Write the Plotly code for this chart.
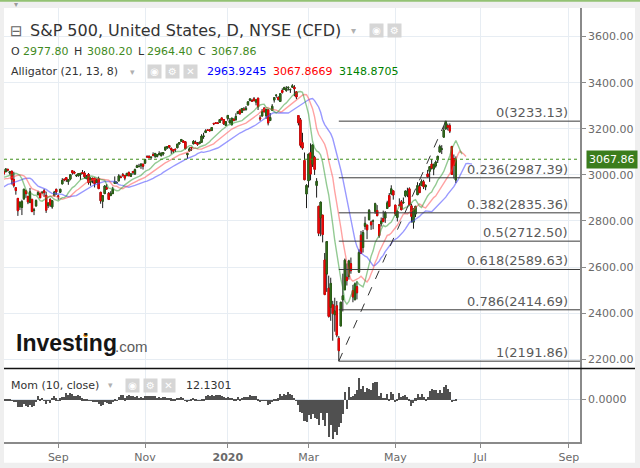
import pandas as pd
import plotly.graph_objects as go

holidays = ["2019-07-04", "2019-09-02", "2019-11-28", "2019-12-25", "2020-01-01",
            "2020-01-20", "2020-02-17", "2020-04-10", "2020-05-25"]

# daily S&P 500 CFD candles, 3 Jun 2019 .. 15 Jun 2020
# (the weeks before late July are off screen, they only feed the indicators)
open_ = [
    # Jun 2019
    2752.6, 2762.6, 2818.1, 2828.5, 2852.9, 2885.8, 2903.3, 2882.7, 2886.2, 2886.8,
    2889.8, 2906.7, 2920.6, 2949.6, 2952.7, 2951.4, 2945.8, 2926.1, 2919.7, 2932.9,
    # Jul
    2971.4, 2964.7, 2978.1, 2984.3, 2979.8, 2965.5, 2989.3, 2999.6, 3003.4, 3017.8,
    3012.1, 3005.1, 2978.9, 3004.3, 2981.9, 2994.7, 2998.8, 3016.3, 3013.3, 3024.5,
    3007.7, 3016.2,
    # Aug
    2980.3, 2943.9, 2898.1, 2861.2, 2858.6, 2896.2, 2930.5, 2907.1, 2880.7, 2894.2,
    2846.2, 2864.7, 2913.5, 2919.0, 2922.0, 2930.9, 2911.1, 2866.7, 2893.1, 2861.3,
    2910.4, 2937.1,
    # Sep
    2909.0, 2924.7, 2960.6, 2980.3, 2988.4, 2971.0, 2981.4, 3018.2, 3012.2, 2996.4,
    2995.7, 3001.5, 3010.4, 3008.4, 2983.5, 3002.4, 2968.4, 2985.7, 2985.5, 2967.1,
    # Oct
    2983.7, 2924.8, 2885.4, 2918.6, 2944.2, 2920.4, 2911.1, 2918.6, 2963.1, 2965.8,
    2973.6, 2989.7, 3000.8, 2996.8, 2996.5, 3010.7, 2994.0, 3014.8, 3003.3, 3032.1,
    3035.4, 3039.7, 3046.9,
    # Nov
    3050.7, 3079.0, 3080.8, 3075.1, 3087.0, 3081.3, 3080.3, 3089.3, 3084.2, 3090.8,
    3107.9, 3117.9, 3127.5, 3114.7, 3108.5, 3111.4, 3117.4, 3134.9, 3145.5, 3147.2,
    # Dec
    3143.9, 3087.4, 3103.5, 3119.2, 3134.6, 3141.9, 3135.4, 3135.8, 3141.2, 3166.7,
    3183.6, 3195.4, 3195.2, 3192.3, 3223.3, 3226.1, 3225.5, 3227.2, 3247.2, 3240.1,
    3215.2,
    # Jan 2020
    3244.7, 3226.4, 3217.6, 3241.9, 3238.6, 3266.0, 3281.0, 3271.1, 3285.4, 3282.3,
    3303.0, 3323.7, 3321.0, 3330.0, 3315.8, 3333.1, 3247.2, 3255.4, 3289.5, 3256.5,
    3282.3,
    # Feb
    3235.7, 3280.6, 3324.9, 3344.9, 3335.5, 3318.3, 3365.9, 3370.5, 3365.9, 3378.1,
    3369.0, 3380.4, 3380.5, 3360.5, 3257.6, 3238.9, 3139.9, 3062.5, 2916.9,
    # Mar
    2974.3, 3096.5, 3045.8, 3075.7, 2954.2, 2863.9, 2813.5, 2825.6, 2630.9, 2570.0,
    2508.6, 2425.7, 2436.5, 2393.5, 2431.9, 2290.7, 2344.4, 2457.8, 2501.3, 2555.9,
    2559.0, 2614.7,
    # Apr
    2498.1, 2458.5, 2514.9, 2578.3, 2738.7, 2685.0, 2777.0, 2782.5, 2805.1, 2795.6,
    2799.3, 2842.4, 2845.6, 2784.8, 2787.9, 2810.4, 2812.6, 2854.7, 2910.0, 2918.5,
    2930.9,
    # May
    2869.1, 2815.0, 2868.9, 2883.1, 2878.3, 2908.8, 2915.5, 2939.5, 2865.9, 2794.5,
    2829.9, 2913.9, 2948.6, 2953.6, 2970.0, 2948.0, 3004.1, 3015.7, 3046.6, 3025.2,
    # Jun
    3038.8, 3064.8, 3098.9, 3111.6, 3163.8, 3199.9, 3213.3, 3213.4, 3123.5, 3071.0,
    2977.8,
]
high = [
    2763.1, 2804.5, 2827.3, 2852.1, 2885.0, 2904.8, 2910.6, 2888.6, 2895.2, 2894.5,
    2897.3, 2930.8, 2931.7, 2958.1, 2964.2, 2954.9, 2946.5, 2932.6, 2929.3, 2943.9,
    2977.9, 2973.2, 2995.8, 2994.0, 2980.8, 2981.9, 3002.9, 3002.3, 3013.9, 3017.8,
    3015.0, 3005.3, 2998.3, 3006.5, 2990.7, 3005.9, 3019.6, 3016.3, 3027.4, 3025.6,
    3017.2, 3017.4,
    3013.6, 2945.5, 2898.1, 2884.4, 2892.2, 2938.7, 2935.8, 2907.6, 2943.3, 2894.2,
    2856.7, 2893.6, 2931.0, 2923.6, 2928.7, 2939.1, 2927.0, 2879.3, 2898.8, 2890.0,
    2930.5, 2940.4,
    2914.4, 2938.8, 2985.9, 2985.0, 2989.4, 2979.4, 3000.9, 3020.0, 3017.3, 3002.2,
    3006.2, 3007.8, 3021.2, 3016.4, 2999.2, 3008.0, 2989.8, 2987.3, 2987.3, 2983.9,
    2992.5, 2924.8, 2911.1, 2953.7, 2959.8, 2925.5, 2929.3, 2948.5, 2993.3, 2972.8,
    3003.3, 2997.5, 3008.3, 3000.0, 3007.3, 3014.6, 3004.8, 3016.1, 3027.4, 3044.1,
    3047.9, 3050.1, 3046.9,
    3066.9, 3085.2, 3084.0, 3078.3, 3097.8, 3093.1, 3088.3, 3102.6, 3098.1, 3098.2,
    3120.5, 3124.2, 3127.6, 3119.0, 3110.1, 3112.9, 3133.8, 3142.7, 3154.3, 3150.3,
    3144.3, 3095.0, 3119.4, 3119.4, 3150.6, 3148.9, 3142.1, 3144.0, 3176.3, 3182.7,
    3197.7, 3198.2, 3198.5, 3205.5, 3225.6, 3227.8, 3226.4, 3240.1, 3247.9, 3240.9,
    3231.7,
    3258.1, 3246.2, 3246.8, 3244.9, 3267.1, 3275.6, 3283.0, 3288.1, 3294.2, 3298.7,
    3317.1, 3329.9, 3329.8, 3337.8, 3326.9, 3333.2, 3258.9, 3285.8, 3293.5, 3285.9,
    3282.3,
    3268.4, 3306.9, 3337.6, 3348.0, 3341.4, 3352.3, 3375.6, 3381.5, 3385.1, 3380.7,
    3375.0, 3393.5, 3389.2, 3360.8, 3259.8, 3247.0, 3182.5, 3097.1, 2959.7,
    3091.0, 3136.7, 3131.0, 3083.0, 2985.9, 2863.9, 2882.6, 2825.6, 2661.0, 2711.3,
    2563.0, 2553.9, 2453.6, 2467.0, 2453.0, 2300.7, 2449.7, 2571.4, 2637.0, 2615.9,
    2631.8, 2641.4,
    2522.8, 2533.2, 2538.2, 2676.9, 2756.9, 2760.8, 2818.6, 2782.5, 2851.9, 2801.9,
    2806.5, 2879.2, 2869.0, 2785.5, 2815.1, 2844.9, 2842.7, 2887.7, 2921.2, 2954.9,
    2930.9,
    2869.1, 2844.2, 2898.2, 2891.1, 2901.9, 2932.2, 2944.3, 2945.8, 2874.1, 2852.8,
    2865.0, 2968.1, 2964.2, 2980.3, 2978.5, 2956.8, 3021.7, 3036.3, 3068.7, 3049.2,
    3062.2, 3081.1, 3130.9, 3128.9, 3211.7, 3233.13, 3222.7, 3223.3, 3123.5, 3088.4,
    3080.2,
]
low = [
    2728.8, 2762.6, 2800.9, 2822.5, 2848.0, 2885.5, 2874.9, 2874.7, 2881.9, 2879.6,
    2887.3, 2905.4, 2911.4, 2931.5, 2946.9, 2944.1, 2916.0, 2912.9, 2918.6, 2929.1,
    2952.2, 2955.9, 2977.9, 2967.9, 2970.1, 2963.4, 2984.6, 2988.8, 3001.9, 3008.8,
    3001.2, 2984.3, 2973.1, 2975.9, 2976.7, 2988.6, 2996.8, 2997.2, 3012.6, 3014.5,
    3000.9, 2958.1,
    2945.2, 2914.1, 2822.1, 2847.4, 2825.7, 2891.7, 2900.2, 2873.1, 2877.1, 2839.6,
    2825.5, 2864.7, 2913.5, 2899.6, 2917.9, 2904.5, 2835.0, 2856.0, 2860.6, 2853.1,
    2905.7, 2913.3,
    2891.9, 2921.9, 2960.6, 2972.5, 2969.4, 2957.0, 2976.3, 3000.9, 3002.9, 2990.7,
    2993.7, 2978.6, 3003.2, 2984.7, 2982.2, 2957.7, 2952.9, 2963.7, 2945.5, 2967.1,
    2938.7, 2874.9, 2855.9, 2918.6, 2935.7, 2892.7, 2907.4, 2917.1, 2963.1, 2962.9,
    2973.6, 2985.2, 2991.8, 2976.3, 2995.4, 2995.0, 2991.2, 3000.4, 3001.9, 3032.1,
    3034.8, 3026.0, 3023.2,
    3050.7, 3074.9, 3072.2, 3065.9, 3080.2, 3073.6, 3075.8, 3084.7, 3078.8, 3083.3,
    3104.6, 3112.1, 3113.5, 3091.4, 3094.6, 3099.3, 3117.4, 3131.0, 3143.4, 3139.3,
    3110.8, 3070.3, 3102.5, 3103.8, 3134.6, 3135.5, 3126.1, 3133.2, 3138.5, 3156.5,
    3183.6, 3191.0, 3191.1, 3192.3, 3216.0, 3222.3, 3220.5, 3227.2, 3234.4, 3216.6,
    3212.0,
    3235.5, 3222.3, 3214.6, 3232.4, 3236.7, 3263.7, 3260.9, 3268.4, 3277.1, 3280.7,
    3303.0, 3318.9, 3316.6, 3320.0, 3301.9, 3281.5, 3234.5, 3253.2, 3271.9, 3242.8,
    3214.7,
    3235.7, 3280.6, 3313.8, 3334.4, 3322.1, 3317.8, 3352.7, 3369.7, 3360.5, 3366.2,
    3355.6, 3378.8, 3341.0, 3328.5, 3214.7, 3118.8, 3109.0, 2977.4, 2855.8,
    2945.2, 2976.6, 3034.4, 2999.8, 2901.5, 2734.4, 2734.0, 2707.2, 2478.9, 2492.4,
    2380.9, 2367.0, 2280.5, 2319.8, 2295.6, 2191.86, 2344.4, 2407.5, 2500.7, 2520.0,
    2545.3, 2571.2,
    2447.5, 2455.8, 2460.0, 2574.6, 2657.7, 2663.3, 2762.4, 2721.2, 2805.1, 2761.5,
    2764.3, 2830.9, 2820.4, 2727.1, 2776.0, 2794.3, 2791.8, 2852.9, 2860.7, 2912.2,
    2892.5,
    2821.6, 2797.9, 2863.6, 2847.7, 2876.5, 2902.9, 2903.4, 2869.6, 2793.2, 2766.6,
    2816.8, 2913.9, 2922.4, 2953.6, 2938.6, 2933.6, 2988.2, 2969.8, 3023.4, 2998.6,
    3031.5, 3051.6, 3098.9, 3090.4, 3163.8, 3196.0, 3193.1, 3181.5, 2999.5, 2984.5,
    2964.4,
]
close = [
    2744.5, 2803.3, 2826.2, 2843.5, 2873.3, 2886.7, 2885.7, 2879.8, 2891.6, 2886.9,
    2889.7, 2917.8, 2926.5, 2954.2, 2950.5, 2945.4, 2917.4, 2913.8, 2924.9, 2941.8,
    2964.3, 2973.0, 2995.8, 2990.4, 2975.9, 2979.6, 2993.1, 2999.9, 3013.8, 3014.3,
    3004.0, 2984.4, 2995.1, 2976.6, 2985.0, 3005.5, 3019.6, 3003.7, 3025.9, 3020.9,
    3013.2, 2980.4,
    2953.6, 2932.1, 2844.7, 2881.8, 2883.9, 2938.1, 2918.7, 2882.7, 2926.3, 2840.6,
    2847.6, 2888.7, 2923.7, 2900.5, 2924.4, 2922.9, 2847.1, 2878.4, 2869.2, 2887.9,
    2924.6, 2926.5,
    2906.3, 2937.8, 2976.0, 2978.7, 2978.4, 2979.4, 3000.9, 3009.6, 3007.4, 2998.0,
    3005.7, 3006.7, 3006.8, 2992.1, 2991.8, 2966.6, 2984.9, 2977.6, 2961.8, 2976.7,
    2940.3, 2887.6, 2910.6, 2952.0, 2938.8, 2893.1, 2919.4, 2938.1, 2970.3, 2966.2,
    2995.7, 2989.7, 2998.0, 2986.2, 3006.7, 2996.0, 3004.5, 3010.3, 3022.6, 3039.4,
    3036.9, 3046.8, 3037.6,
    3066.9, 3078.3, 3074.6, 3076.8, 3085.2, 3093.1, 3087.0, 3091.8, 3094.0, 3096.6,
    3120.5, 3122.0, 3120.2, 3108.5, 3103.5, 3110.3, 3133.6, 3140.5, 3153.6, 3141.0,
    3113.9, 3093.2, 3113.0, 3117.4, 3145.9, 3136.0, 3132.5, 3141.6, 3168.6, 3168.8,
    3191.5, 3192.5, 3191.1, 3205.4, 3221.2, 3224.0, 3223.4, 3240.0, 3240.0, 3221.3,
    3230.8,
    3257.9, 3234.9, 3246.3, 3237.2, 3253.1, 3274.7, 3265.4, 3288.1, 3283.2, 3289.3,
    3317.0, 3329.6, 3321.0, 3321.6, 3325.5, 3295.5, 3243.6, 3276.2, 3273.4, 3283.7,
    3225.5,
    3248.9, 3297.6, 3334.7, 3345.8, 3327.7, 3352.1, 3357.8, 3379.5, 3373.9, 3380.2,
    3370.3, 3386.2, 3373.2, 3337.8, 3225.9, 3128.2, 3116.4, 2978.8, 2954.2,
    3090.2, 3003.4, 3130.1, 3023.9, 2972.4, 2746.6, 2882.2, 2741.4, 2480.6, 2711.0,
    2386.1, 2529.2, 2398.1, 2409.4, 2304.9, 2237.4, 2447.3, 2475.6, 2630.1, 2541.5,
    2626.7, 2584.6,
    2470.5, 2526.9, 2488.7, 2663.7, 2659.4, 2750.0, 2789.8, 2761.6, 2846.1, 2783.4,
    2799.6, 2874.6, 2823.2, 2736.6, 2799.3, 2797.8, 2836.7, 2878.5, 2863.4, 2939.5,
    2912.4,
    2830.7, 2842.7, 2868.4, 2848.4, 2881.2, 2929.8, 2930.3, 2870.1, 2820.0, 2852.5,
    2863.7, 2953.9, 2922.9, 2971.6, 2948.5, 2955.5, 2991.8, 3036.1, 3029.7, 3044.3,
    3055.73, 3080.8, 3122.9, 3112.4, 3193.9, 3232.4, 3207.2, 3190.1, 3002.1, 3041.3,
    3067.86,
]

tick_dates = ["2019-09-03", "2019-11-01", "2020-01-02", "2020-03-02",
              "2020-05-01", "2020-07-01", "2020-09-01"]
tick_labels = ["Sep", "Nov", "<b>2020</b>", "Mar", "May", "Jul", "Sep"]

fib_ratios = [0, 0.236, 0.382, 0.5, 0.618, 0.786, 1]
fib_prices = [3233.13, 2987.39, 2835.36, 2712.50, 2589.63, 2414.69, 2191.86]
fib_low_day = "2020-03-23"
fib_high_day = "2020-06-08"

alligator_values = ["2963.9245", "3067.8669", "3148.8705"]
mom_value = "12.1301"

x_range = ["2019-07-25 15:00", "2020-09-09 00:00"]

# ---------------------------------------------------------------------------
days = pd.bdate_range("2019-06-03", "2020-06-15", freq="C", holidays=holidays)
df = pd.DataFrame({"open": open_, "high": high, "low": low, "close": close}, index=days)
noon = pd.Timedelta(hours=12)

# Alligator (21, 13, 8): moving averages of the median price, pushed 8/5/3 bars ahead
future = pd.bdate_range(days[-1] + pd.Timedelta(days=1), periods=8, freq="C")
ext = days.append(future)
hl2 = (df["high"] + df["low"]) / 2

jaw = hl2.ewm(span=21, adjust=False).mean().reindex(ext).shift(8)
teeth = hl2.ewm(span=13, adjust=False).mean().reindex(ext).shift(5)
lips = hl2.ewm(span=8, adjust=False).mean().reindex(ext).shift(3)

mom = df["close"] - df["close"].shift(10)

SANS = "DejaVu Sans"
GRID = "#e7edf3"
AXIS = "#8a8a8a"
TOP = 8
BOTTOM = 445
LEFT = 4
RIGHT = 580
SPLIT = (BOTTOM - 371) / (BOTTOM - TOP)


def px(x):
    return (x - LEFT) / (RIGHT - LEFT)


def py(y):
    return (BOTTOM - y) / (BOTTOM - TOP)


fig = go.Figure()

# wicks (black), then coloured bodies on top
fig.add_trace(go.Candlestick(
    x=df.index + noon, open=df["open"], high=df["high"], low=df["low"], close=df["close"],
    increasing=dict(line=dict(color="#1b1b1b", width=1), fillcolor="#1b1b1b"),
    decreasing=dict(line=dict(color="#1b1b1b", width=1), fillcolor="#1b1b1b"),
    whiskerwidth=0, hoverinfo="skip"))
body_hi = df[["open", "close"]].max(axis=1)
body_lo = df[["open", "close"]].min(axis=1)
fig.add_trace(go.Candlestick(
    x=df.index + noon, open=df["open"], high=body_hi, low=body_lo, close=df["close"],
    increasing=dict(line=dict(color="#2a5e16", width=1), fillcolor="#3c8a23"),
    decreasing=dict(line=dict(color="#e60000", width=1), fillcolor="#ff1414"),
    whiskerwidth=0, hoverinfo="skip"))

for line, col in [(jaw, "rgba(70,70,255,0.55)"), (teeth, "rgba(255,70,70,0.5)"),
                  (lips, "rgba(40,150,40,0.5)")]:
    fig.add_trace(go.Scatter(x=line.index + noon, y=line, mode="lines",
                             line=dict(color=col, width=1.4), hoverinfo="skip"))

fig.add_trace(go.Bar(x=mom.index + noon, y=mom, yaxis="y2", marker_color="#505050",
                     marker_line_width=0, hoverinfo="skip"))

# fibonacci retracement drawing
for r, p in zip(fib_ratios, fib_prices):
    fig.add_shape(type="line", xref="x", yref="y", x0=pd.Timestamp(fib_low_day) + noon,
                  x1=x_range[1], y0=p, y1=p, line=dict(color="#3a3a3a", width=1))
    fig.add_annotation(xref="paper", yref="y", x=1, y=p, xanchor="right", yanchor="bottom",
                       xshift=-10, yshift=-1, showarrow=False, text=f"{r:g}({p:.2f})",
                       font=dict(family=SANS, size=13, color="#5a5a5a"))
fig.add_shape(type="line", xref="x", yref="y",
              x0=pd.Timestamp(fib_low_day) + noon, y0=min(fib_prices),
              x1=pd.Timestamp(fib_high_day) + noon, y1=max(fib_prices),
              line=dict(color="#333333", width=1, dash="dash"))

# last price line + tag
last = df["close"].iloc[-1]
fig.add_shape(type="line", xref="paper", yref="y", x0=0, x1=1, y0=last, y1=last,
              line=dict(color="#3f8f1c", width=1, dash="dot"))
fig.add_annotation(xref="paper", yref="y", x=1, y=last, xanchor="left", xshift=6,
                   showarrow=False, text=f"{last:.2f}", bgcolor="#3b7d1d", borderpad=2,
                   font=dict(family=SANS, size=11, color="white"))

# frame pieces
fig.add_shape(type="rect", xref="paper", yref="paper", x0=0, x1=px(635), y0=py(466), y1=1,
              fillcolor="white", line_width=0, layer="below")
fig.add_shape(type="line", xref="paper", yref="paper", x0=px(0), x1=px(640), y0=py(0.6),
              y1=py(0.6), line=dict(color="#93c273", width=2))
fig.add_shape(type="line", xref="paper", yref="paper", x0=0, x1=px(635), y0=py(371),
              y1=py(371), line=dict(color="#111111", width=1.5))


def label(x, y, text, size=11, color="#333333", family=SANS, **kw):
    fig.add_annotation(xref="paper", yref="paper", x=px(x), y=py(y), text=text,
                       showarrow=False, xanchor="left", yanchor="middle",
                       font=dict(size=size, color=color, family=family), **kw)


def icons(x0, y, glyphs):
    for i, g in enumerate(glyphs):
        label(x0 + i * 18, y, g, size=10, color="white", bgcolor="#d6d6d6",
              width=13, height=13, borderpad=0)


label(12, 4, "▾", size=8, color="#999999")
label(8, 31, "⊟", size=15, color="#666666")
label(28, 31, "S&P 500, United States, D, NYSE (CFD)", size=16, color="#333333")
label(349, 31, "▾", size=10, color="#b0b0b0")
icons(369, 31, ["◉", "⚙"])

for i, (k, v) in enumerate(zip("OHLC", [open_[-1], high[-1], low[-1], close[-1]])):
    x0 = [9, 72, 136, 196][i]
    label(x0, 52, k, color="#333333")
    label(x0 + [12, 13, 9, 13][i], 52, f"{v:.2f}", color="#3f8a22")

label(9, 72, "Alligator (21, 13, 8)", color="#333333")
label(128, 72, "▾", size=9, color="#b0b0b0")
icons(147, 72, ["◉", "⚙", "✕"])
for x0, v, col in zip([205, 271, 337], alligator_values, ["#0000ff", "#ff0000", "#008000"]):
    label(x0, 72, v, color=col)

label(9, 388, "Mom (10, close)", color="#333333")
label(106, 388, "▾", size=9, color="#b0b0b0")
icons(125, 388, ["◉", "⚙", "✕"])
label(184, 388, mom_value, color="#333333")

label(14, 345, "<b>Investing</b>", size=23, color="#151515", family="Liberation Sans")
label(113, 349, ".com", size=15, color="#5c5c5c", family="Liberation Sans")
fig.add_shape(type="circle", xref="paper", yref="paper", x0=px(83.4), x1=px(87.6),
              y0=py(339.6), y1=py(335.4), fillcolor="#f7a11a", line_width=0)

fig.update_layout(
    width=640, height=468,
    margin=dict(l=LEFT, r=640 - RIGHT, t=TOP, b=468 - BOTTOM),
    paper_bgcolor="#efefef", plot_bgcolor="white",
    showlegend=False, bargap=0, boxgap=0.1,
    xaxis=dict(type="date", range=x_range, anchor="y2",
               rangebreaks=[dict(bounds=["sat", "mon"]), dict(values=holidays)],
               rangeslider=dict(visible=False),
               tickvals=[pd.Timestamp(d) + noon for d in tick_dates], ticktext=tick_labels,
               showgrid=True, gridcolor=GRID, ticks="outside", ticklen=4, tickcolor=AXIS,
               showline=True, linecolor=AXIS, linewidth=1.5,
               tickfont=dict(family=SANS, size=11, color="#6a6a6a")),
    yaxis=dict(domain=[SPLIT, 1], range=[2160, 3724], side="right", anchor="x",
               tick0=0, dtick=200, tickformat=".2f", showgrid=True, gridcolor=GRID,
               zeroline=False, showline=True, linecolor=AXIS, linewidth=1.5,
               ticks="outside", ticklen=4, tickcolor=AXIS,
               tickfont=dict(family=SANS, size=11, color="#6a6a6a")),
    yaxis2=dict(domain=[0, SPLIT], range=[-806, 590], side="right", anchor="x",
                tickvals=[0], tickformat=".4f", showgrid=False, zeroline=True,
                zerolinecolor="#dfe6ee", zerolinewidth=1, showline=True, linecolor=AXIS,
                linewidth=1.5, ticks="outside", ticklen=4, tickcolor=AXIS,
                tickfont=dict(family=SANS, size=11, color="#6a6a6a")),
)

# the page's default 8px body margin would push the chart off the window
fig.write_html("out.html", config={"displayModeBar": False},
               post_script="document.body.style.margin='0';")
